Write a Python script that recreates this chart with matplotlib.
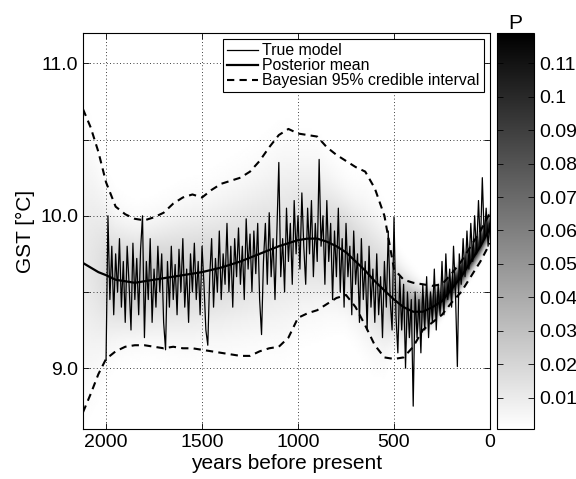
import matplotlib
matplotlib.use('Agg')
import matplotlib.pyplot as plt
import numpy as np

plt.rcParams['font.family'] = ['Liberation Sans', 'DejaVu Sans']

# true model, every 10 years from 2000 to 0 years before present
true_years = np.arange(2000, -1, -10)
true_gst = [
    9.05, 10.00, 9.45, 9.80, 9.35, 9.75, 9.50, 9.85, 9.40, 9.70,
    9.30, 9.80, 9.55, 9.25, 9.82, 9.45, 9.72, 9.35, 9.78, 10.00,
    9.20, 9.70, 9.45, 9.85, 9.30, 9.65, 9.40, 9.80, 9.50, 9.75,
    9.30, 9.12, 9.70, 9.40, 9.80, 9.45, 9.68, 9.35, 9.78, 9.50,
    9.85, 9.40, 9.65, 9.30, 9.75, 9.50, 9.82, 9.45, 9.70, 9.35,
    9.80, 9.55, 9.25, 9.15, 9.60, 9.85, 9.40, 9.72, 9.50, 9.90,
    9.45, 9.75, 9.55, 9.95, 9.50, 9.80, 9.40, 9.85, 9.60, 9.92,
    9.55, 9.80, 9.45, 9.98, 9.65, 9.88, 9.50, 9.90, 9.62, 9.95,
    9.45, 9.22, 9.70, 9.95, 9.55, 10.02, 9.60, 9.85, 9.45, 9.90,
    10.35, 9.60, 9.85, 9.50, 10.05, 9.70, 9.95, 9.55, 10.10, 9.75,
    10.00, 9.65, 10.15, 9.80, 9.55, 10.05, 9.75, 10.10, 9.60, 9.95,
    9.70, 10.37, 9.80, 10.00, 9.55, 10.10, 9.70, 9.95, 9.45, 9.90,
    9.60, 10.05, 9.50, 9.85, 9.40, 9.95, 9.60, 9.80, 9.35, 9.90,
    9.55, 9.75, 9.30, 9.85, 9.45, 9.70, 9.25, 9.80, 9.40, 9.65,
    9.30, 9.75, 9.35, 9.60, 9.20, 9.70, 9.40, 9.90, 9.45, 9.25,
    9.99, 9.35, 9.10, 9.60, 9.25, 9.55, 9.00, 9.50, 9.20, 9.45,
    8.75, 9.50, 9.20, 9.45, 9.10, 9.55, 9.25, 9.60, 9.20, 9.50,
    9.30, 9.65, 9.25, 9.55, 9.35, 9.70, 9.35, 9.75, 9.45, 9.65,
    9.40, 9.80, 9.50, 9.01, 9.75, 9.55, 9.85, 9.60, 9.90, 9.65,
    9.95, 9.70, 10.00, 9.75, 10.10, 9.80, 10.25, 9.85, 10.05, 9.80,
    9.95,
]

# posterior mean and 95% credible interval
post_years = [2120, 2080, 2040, 2000, 1950, 1900, 1850, 1800, 1750, 1700, 1650, 1600,
              1550, 1500, 1450, 1400, 1350, 1300, 1250, 1200, 1150, 1100, 1050, 1000,
              950, 900, 850, 800, 750, 700, 650, 600, 550, 500, 450, 400, 350, 300,
              250, 200, 150, 100, 50, 0]
post_mean = [9.69, 9.66, 9.63, 9.61, 9.58, 9.57, 9.56, 9.57, 9.58, 9.59, 9.60, 9.61,
             9.62, 9.63, 9.645, 9.66, 9.68, 9.70, 9.725, 9.75, 9.775, 9.80, 9.82, 9.84,
             9.85, 9.85, 9.83, 9.80, 9.76, 9.70, 9.64, 9.57, 9.51, 9.45, 9.40, 9.37,
             9.37, 9.40, 9.44, 9.52, 9.60, 9.70, 9.80, 9.92]
ci_upper = [10.70, 10.58, 10.42, 10.22, 10.06, 10.01, 9.98, 9.97, 9.99, 10.02, 10.08, 10.12,
            10.14, 10.12, 10.17, 10.21, 10.23, 10.25, 10.29, 10.36, 10.45, 10.53, 10.57, 10.54,
            10.53, 10.52, 10.45, 10.40, 10.36, 10.32, 10.29, 10.18, 10.00, 9.65, 9.58, 9.56,
            9.55, 9.54, 9.55, 9.62, 9.70, 9.80, 9.90, 10.02]
ci_lower = [8.71, 8.83, 8.96, 9.06, 9.11, 9.14, 9.15, 9.15, 9.14, 9.13, 9.14, 9.13,
            9.13, 9.12, 9.11, 9.10, 9.09, 9.08, 9.08, 9.11, 9.13, 9.14, 9.20, 9.33,
            9.36, 9.38, 9.42, 9.46, 9.48, 9.40, 9.28, 9.15, 9.07, 9.06, 9.07, 9.14,
            9.25, 9.30, 9.35, 9.43, 9.50, 9.60, 9.70, 9.82]

cbar_ticks = [0.01, 0.02, 0.03, 0.04, 0.05, 0.06, 0.07, 0.08, 0.09, 0.1, 0.11]

fig = plt.figure(figsize=(5.76, 4.79), dpi=100)
ax = fig.add_axes([83 / 576, 50 / 479, 407 / 576, 396 / 479])
cax = fig.add_axes([497 / 576, 50 / 479, 37 / 576, 396 / 479])

# probability image built from the posterior mean and interval width
grid_x = np.linspace(2120, 0, 424)
grid_y = np.arange(8.6, 11.2, 0.0138)
px = post_years[::-1]
m = np.interp(grid_x, px, post_mean[::-1])
up = np.interp(grid_x, px, ci_upper[::-1])
lo = np.interp(grid_x, px, ci_lower[::-1])
sig = (up - lo) / 3.92
P = np.exp(-0.5 * ((grid_y[:, None] - m[None, :]) / sig[None, :]) ** 2)
P = P / (sig[None, :] * np.sqrt(2 * np.pi)) * 0.0138

im = ax.imshow(P, extent=[2120, 0, 8.6, 11.2 + 0.0138], origin='lower', aspect='auto',
               cmap='gray_r', vmin=0.0007, vmax=0.119, interpolation='bilinear')

ax.plot(true_years, true_gst, color='black', lw=0.9, label='True model')
ax.plot(post_years, post_mean, color='black', lw=1.6, label='Posterior mean')
ax.plot(post_years, ci_upper, color='black', lw=1.5, ls=(0, (3.5, 2.5)),
        label='Bayesian 95% credible interval')
ax.plot(post_years, ci_lower, color='black', lw=1.5, ls=(0, (3.5, 2.5)))

ax.set_xlim(2120, 0)
ax.set_ylim(8.6, 11.2)
ax.set_xticks([2000, 1500, 1000, 500, 0])
ax.set_yticks([9, 9.5, 10, 10.5, 11])
ax.set_yticklabels(['9.0', '', '10.0', '', '11.0'])
ax.tick_params(direction='in', top=True, right=True, labelsize=14, length=4, width=0.6)
ax.grid(True, color='black', ls=(0, (1, 3)), lw=0.6)
for s in ax.spines.values():
    s.set_linewidth(0.8)
ax.set_xlabel('years before present', fontsize=15, labelpad=2)
ax.set_ylabel('GST [°C]', fontsize=15, labelpad=4)

leg = ax.legend(loc='upper right', fontsize=11.4, fancybox=False, framealpha=1,
                edgecolor='black', handlelength=2.0, handletextpad=0.25,
                labelspacing=0.0, borderpad=0.25, borderaxespad=0.4)
leg.get_frame().set_linewidth(0.8)

cb = fig.colorbar(im, cax=cax)
cb.set_ticks(cbar_ticks)
cb.set_ticklabels(['%g' % t for t in cbar_ticks])
cb.ax.tick_params(direction='in', left=True, right=True, labelsize=14, length=4, width=0.6)
cb.outline.set_linewidth(0.8)
cax.set_title('P', fontsize=15, pad=2)

fig.savefig('out.png', dpi=100)
